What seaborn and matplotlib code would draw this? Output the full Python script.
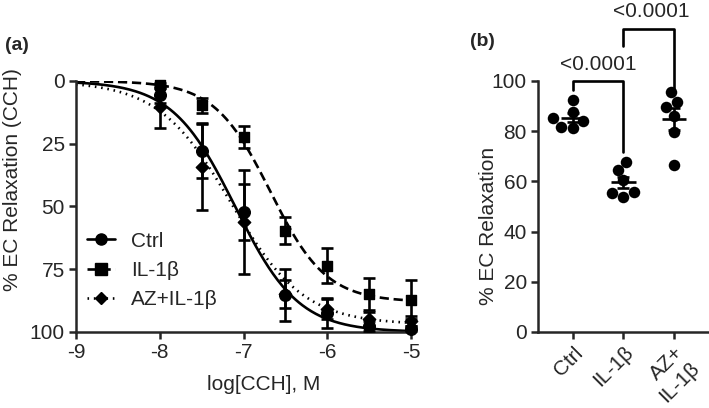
import numpy as np
import pandas as pd
import matplotlib
matplotlib.use("Agg")
import matplotlib.pyplot as plt
from matplotlib.lines import Line2D
import seaborn as sns

# (a) concentration-response: mean and SEM at each log[CCH]
log_cch = [-8, -7.5, -7, -6.5, -6, -5.5, -5]
ctrl_mean = [5.7, 27.7, 52.3, 85.3, 92.6, 97.8, 98.8]
ctrl_sem = [3.0, 11.0, 11.2, 10.3, 6.0, 2.0, 1.0]
il1b_mean = [1.7, 9.7, 22.3, 59.6, 73.6, 85.0, 87.1]
il1b_sem = [1.0, 3.0, 4.5, 5.5, 6.9, 6.4, 7.8]
az_mean = [10.4, 34.3, 56.2, 84.8, 90.8, 95.0, 95.8]
az_sem = [8.5, 17.0, 20.6, 5.5, 4.0, 3.0, 2.0]

# fitted curve parameters: top, logEC50, hill slope
ctrl_fit = [100, -7.1, 1.15]
il1b_fit = [88, -6.68, 1.3]
az_fit = [97, -7.15, 1.0]

# (b) individual animals
groups = ["Ctrl", "IL-1β", "AZ+\nIL-1β"]
ctrl_pts = [92.4, 87.8, 85.1, 84.0, 81.4, 81.8]
il1b_pts = [67.6, 64.5, 60.5, 53.9, 55.9, 55.2]
az_pts = [95.7, 91.7, 89.7, 86.2, 79.8, 66.5]
p_labels = ["<0.0001", "<0.0001"]

sns.set_style("ticks")
plt.rcParams["font.family"] = ["Liberation Sans", "DejaVu Sans"]
plt.rcParams["axes.unicode_minus"] = False
plt.rcParams["axes.linewidth"] = 1.8
fs = 15
lw = 1.9

fig = plt.figure(figsize=(7.09, 4.08), dpi=100)
ax = fig.add_axes([0.1072, 0.1863, 0.4725, 0.6152])
ax2 = fig.add_axes([0.7588, 0.1863, 0.2412, 0.6152])


def hill(x, p):
    top, ec50, h = p
    return top / (1 + 10 ** ((ec50 - x) * h))


xx = np.linspace(-9, -5, 300)
series = [
    ("Ctrl", ctrl_mean, ctrl_sem, ctrl_fit, "o", 70, None),
    ("IL-1β", il1b_mean, il1b_sem, il1b_fit, "s", 58, (3.5, 1.8)),
    ("AZ+IL-1β", az_mean, az_sem, az_fit, "D", 40, (0.6, 1.8)),
]
handles = []
for name, m, s, fit, mk, size, dash in series:
    curve = pd.DataFrame({"x": xx, "y": hill(xx, fit)})
    sns.lineplot(data=curve, x="x", y="y", ax=ax, color="black", lw=lw)
    line = ax.get_lines()[-1]
    if dash:
        line.set_dashes(dash)
    ax.errorbar(log_cch, m, yerr=s, fmt="none", ecolor="black",
                elinewidth=lw, capsize=4, capthick=lw, clip_on=False, zorder=3)
    ax.scatter(log_cch, m, marker=mk, s=size, color="black", zorder=4, clip_on=False)
    h = Line2D([], [], color="black", lw=lw, marker=mk,
               markersize=8 if mk != "D" else 6.5)
    if dash:
        h.set_dashes(dash)
    handles.append(h)

ax.set_xlim(-9, -5)
ax.set_ylim(100, 0)
ax.set_xticks([-9, -8, -7, -6, -5])
ax.set_yticks([0, 25, 50, 75, 100])
ax.tick_params(labelsize=fs, width=1.8, length=5, pad=3)
ax.set_xlabel("log[CCH], M", fontsize=fs)
ax.set_ylabel("% EC Relaxation (CCH)", fontsize=fs)
ax.xaxis.set_label_coords(0.561, -0.21)
ax.xaxis.label.set_va("center")
ax.yaxis.set_label_coords(-0.19, 0.606)
ax.yaxis.label.set_va("center")
sns.despine(ax=ax)
ax.legend(handles, ["Ctrl", "IL-1β", "AZ+IL-1β"], loc="center left",
          bbox_to_anchor=(0.033, 0.245), frameon=False, fontsize=fs,
          borderpad=0, borderaxespad=0, handlelength=1.35,
          handletextpad=0.75, labelspacing=0.5)

# right panel
pts = pd.DataFrame({
    "group": [groups[0]] * len(ctrl_pts) + [groups[1]] * len(il1b_pts) + [groups[2]] * len(az_pts),
    "value": ctrl_pts + il1b_pts + az_pts,
})
sns.swarmplot(data=pts, x="group", y="value", order=groups, color="black",
              size=8.3, ax=ax2, clip_on=False)
for i, vals in enumerate([ctrl_pts, il1b_pts, az_pts]):
    mu = np.mean(vals)
    sem = np.std(vals, ddof=1) / np.sqrt(len(vals))
    ax2.hlines(mu, i - 0.24, i + 0.24, color="black", lw=lw, zorder=5)
    ax2.errorbar(i, mu, yerr=sem, fmt="none", ecolor="black", elinewidth=lw,
                 capsize=4.5, capthick=lw, zorder=5)

ax2.set_xlim(-0.69, 2.69)
ax2.set_ylim(0, 100)
ax2.set_yticks([0, 20, 40, 60, 80, 100])
ax2.tick_params(labelsize=fs, width=1.8, length=5, pad=3)
ax2.set_xlabel("")
ax2.set_ylabel("% EC Relaxation", fontsize=fs)
ax2.yaxis.set_label_coords(-0.29, 0.422)
ax2.yaxis.label.set_va("center")
for lab in ax2.get_xticklabels():
    lab.set_rotation(45)
    lab.set_ha("right")
    lab.set_rotation_mode("anchor")
    lab.set_multialignment("right")
sns.despine(ax=ax2)

# significance brackets
ax2.plot([0, 0, 1, 1], [96.5, 100, 100, 71.6], color="black", lw=lw, clip_on=False)
ax2.plot([1, 1, 2, 2], [113.9, 120.6, 120.6, 97.3], color="black", lw=lw, clip_on=False)
ax2.text(0.5, 106.6, p_labels[0], ha="center", va="center", fontsize=fs, clip_on=False)
ax2.text(1.55, 127.6, p_labels[1], ha="center", va="center", fontsize=fs, clip_on=False)

fig.text(5 / 709, 1 - 45 / 408, "(a)", fontsize=14, fontweight="bold", va="center")
fig.text(470 / 709, 1 - 42 / 408, "(b)", fontsize=14, fontweight="bold", va="center")

fig.savefig("out.png", dpi=100)
